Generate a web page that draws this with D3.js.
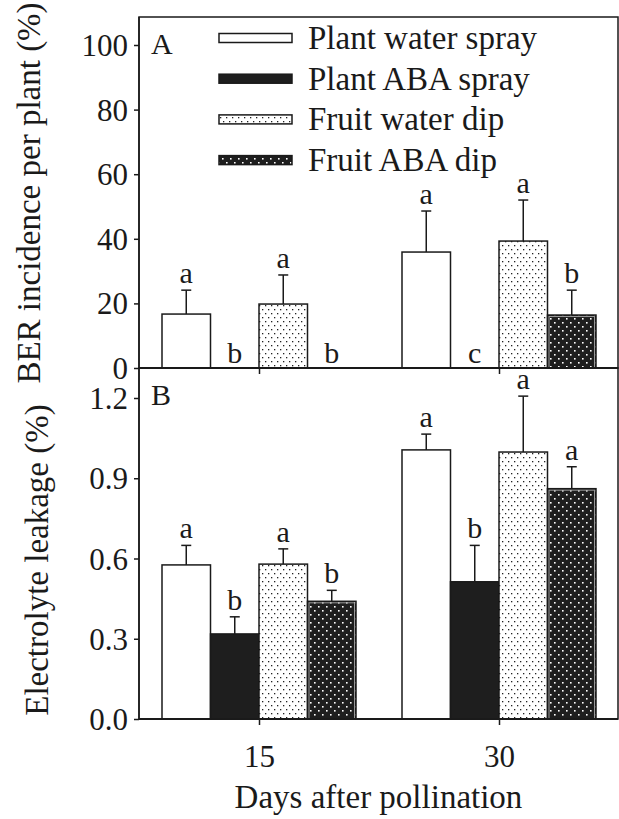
<!DOCTYPE html>
<html>
<head>
<meta charset="utf-8">
<script src="https://cdn.jsdelivr.net/npm/d3@7"></script>
<style>
  body { margin: 0; background: #fff; }
</style>
</head>
<body>
<svg id="grafico"></svg>
<script>
// dados
var dias = [15, 30];
var tratamentos = ['Plant water spray', 'Plant ABA spray', 'Fruit water dip', 'Fruit ABA dip'];
var berMedia = [[16.7, 0, 19.8, 0], [35.9, 0, 39.3, 16.4]];
var berErro = [[7.4, 0, 9.0, 0], [12.7, 0, 12.7, 7.7]];
var berLetras = [['a', 'b', 'a', 'b'], ['a', 'c', 'a', 'b']];
var vazMedia = [[0.576, 0.318, 0.579, 0.44], [1.006, 0.513, 0.998, 0.861]];
var vazErro = [[0.073, 0.064, 0.057, 0.041], [0.059, 0.136, 0.209, 0.082]];
var vazLetras = [['a', 'b', 'a', 'b'], ['a', 'b', 'a', 'a']];
var ticksBer = [0, 20, 40, 60, 80, 100];
var ticksVaz = [0, 0.3, 0.6, 0.9, 1.2];

var fonte = 'Liberation Serif';
var corTexto = '#1a1a1a';

var svg = d3.select('#grafico').attr('width', 619).attr('height', 819);

//Aplica fonte serifada diretamente em cada texto
function estiloTexto(sel, tamanho) {
    return sel.style('font-family', fonte).style('font-size', tamanho + 'px').style('fill', corTexto);
}

//Padrões de preenchimento
var defs = svg.append('defs');
var p1 = defs.append('pattern').attr('id', 'pontosBrancos')
    .attr('patternUnits', 'userSpaceOnUse').attr('width', 6).attr('height', 8);
p1.append('rect').attr('width', 6).attr('height', 8).attr('fill', '#fff');
p1.append('rect').attr('x', 1).attr('y', 1).attr('width', 1.3).attr('height', 1.3).attr('fill', '#222');
p1.append('rect').attr('x', 4).attr('y', 5).attr('width', 1.3).attr('height', 1.3).attr('fill', '#222');
var p2 = defs.append('pattern').attr('id', 'pontosPretos')
    .attr('patternUnits', 'userSpaceOnUse').attr('width', 8).attr('height', 8);
p2.append('rect').attr('width', 8).attr('height', 8).attr('fill', '#1e1e1e');
p2.append('rect').attr('x', 2).attr('y', 2).attr('width', 1.6).attr('height', 1.6).attr('fill', '#fff');
p2.append('rect').attr('x', 6).attr('y', 6).attr('width', 1.6).attr('height', 1.6).attr('fill', '#fff');

var cores = ['#fff', '#1e1e1e', 'url(#pontosBrancos)', 'url(#pontosPretos)'];

//Escala horizontal comum
var x = d3.scaleLinear().domain([7.5, 37.5]).range([139, 619]);
var larguraBarra = 48.5;
var esquerda = 139, direita = 618;

function painel(y, media, erro, letras, ticks, formato, topo, rotuloEixo, xRotulo, yRotulo, letraPainel, mostraX) {
    var base = y(0);

    //Moldura
    svg.append('rect')
        .attr('x', esquerda).attr('y', topo)
        .attr('width', direita - esquerda).attr('height', base - topo)
        .attr('fill', 'none').attr('stroke', corTexto).attr('stroke-width', 1.5);

    //Barras
    dias.forEach(function(d, i) {
        var g = svg.append('g');
        media[i].forEach(function(v, j) {
            var x0 = x(d) + (j - 2) * larguraBarra;
            if (v > 0) {
                g.append('rect')
                    .attr('x', x0).attr('y', y(v))
                    .attr('width', larguraBarra).attr('height', base - y(v))
                    .attr('fill', cores[j]).attr('stroke', corTexto).attr('stroke-width', 1.5);
                if (j == 3) {
                    g.append('rect')
                        .attr('x', x0 + 1.5).attr('y', y(v) + 1.5)
                        .attr('width', larguraBarra - 3).attr('height', base - y(v) - 1.5)
                        .attr('fill', 'none').attr('stroke', '#999').attr('stroke-width', 1);
                }
                //Barra de erro
                var cx = x0 + larguraBarra / 2;
                var ey = y(v + erro[i][j]);
                g.append('line').attr('x1', cx).attr('x2', cx).attr('y1', y(v)).attr('y2', ey)
                    .attr('stroke', corTexto).attr('stroke-width', 1.5);
                g.append('line').attr('x1', cx - 5).attr('x2', cx + 5).attr('y1', ey).attr('y2', ey)
                    .attr('stroke', corTexto).attr('stroke-width', 1.5);
            }
            var ly = v > 0 ? y(v + erro[i][j]) - 7 : base - 5;
            estiloTexto(g.append('text'), 30)
                .attr('x', x0 + larguraBarra / 2).attr('y', ly)
                .style('text-anchor', 'middle')
                .text(letras[i][j]);
        });
    });

    //Eixos
    var eixoY = d3.axisLeft(y).tickValues(ticks).tickSize(5).tickPadding(6).tickFormat(formato);
    var gy = svg.append('g').attr('transform', 'translate(' + esquerda + ',0)').call(eixoY);
    gy.select('.domain').remove();
    gy.selectAll('line').attr('stroke', corTexto).attr('stroke-width', 1.5);
    estiloTexto(gy.selectAll('text'), 31).attr('dy', '0.34em');
    gy.append('line').attr('y1', topo).attr('y2', base).attr('stroke', corTexto).attr('stroke-width', 1.5);

    var eixoX = d3.axisBottom(x).tickValues(dias).tickSize(6).tickPadding(20)
        .tickFormat(mostraX ? d3.format('d') : '');
    var gx = svg.append('g').attr('transform', 'translate(0,' + base + ')').call(eixoX);
    gx.select('.domain').remove();
    gx.selectAll('line').attr('stroke', corTexto).attr('stroke-width', 1.5);
    estiloTexto(gx.selectAll('text'), 31);
    gx.append('line').attr('x1', esquerda).attr('x2', direita).attr('stroke', corTexto).attr('stroke-width', 2);

    //Título do eixo Y
    estiloTexto(svg.append('text'), 33)
        .style('text-anchor', 'middle')
        .attr('transform', 'translate(' + xRotulo + ',' + yRotulo + ') rotate(-90)')
        .text(rotuloEixo);

    //Letra do painel
    estiloTexto(svg.append('text'), 30).attr('x', 151).attr('y', topo + 37).text(letraPainel);
}

var yBer = d3.scaleLinear().domain([0, 100]).range([368, 45]);
var yVaz = d3.scaleLinear().domain([0, 1.2]).range([719, 398]);

painel(yBer, berMedia, berErro, berLetras, ticksBer, d3.format('d'), 17,
       'BER incidence per plant (%)', 40, 193, 'A', false);
painel(yVaz, vazMedia, vazErro, vazLetras, ticksVaz, d3.format('.1f'), 368,
       'Electrolyte leakage (%)', 48, 560, 'B', true);

//Título do eixo X
estiloTexto(svg.append('text'), 33)
    .attr('x', (esquerda + direita) / 2).attr('y', 808)
    .style('text-anchor', 'middle')
    .text('Days after pollination');

//Legenda
var legenda = svg.append('g');
tratamentos.forEach(function(t, i) {
    var cy = 38 + i * 40.7;
    legenda.append('rect')
        .attr('x', 219).attr('y', cy - 4.5).attr('width', 73).attr('height', 9)
        .attr('fill', cores[i]).attr('stroke', corTexto).attr('stroke-width', 1.5);
    estiloTexto(legenda.append('text'), 33)
        .attr('x', 308).attr('y', cy + 11)
        .text(t);
});
</script>
</body>
</html>
